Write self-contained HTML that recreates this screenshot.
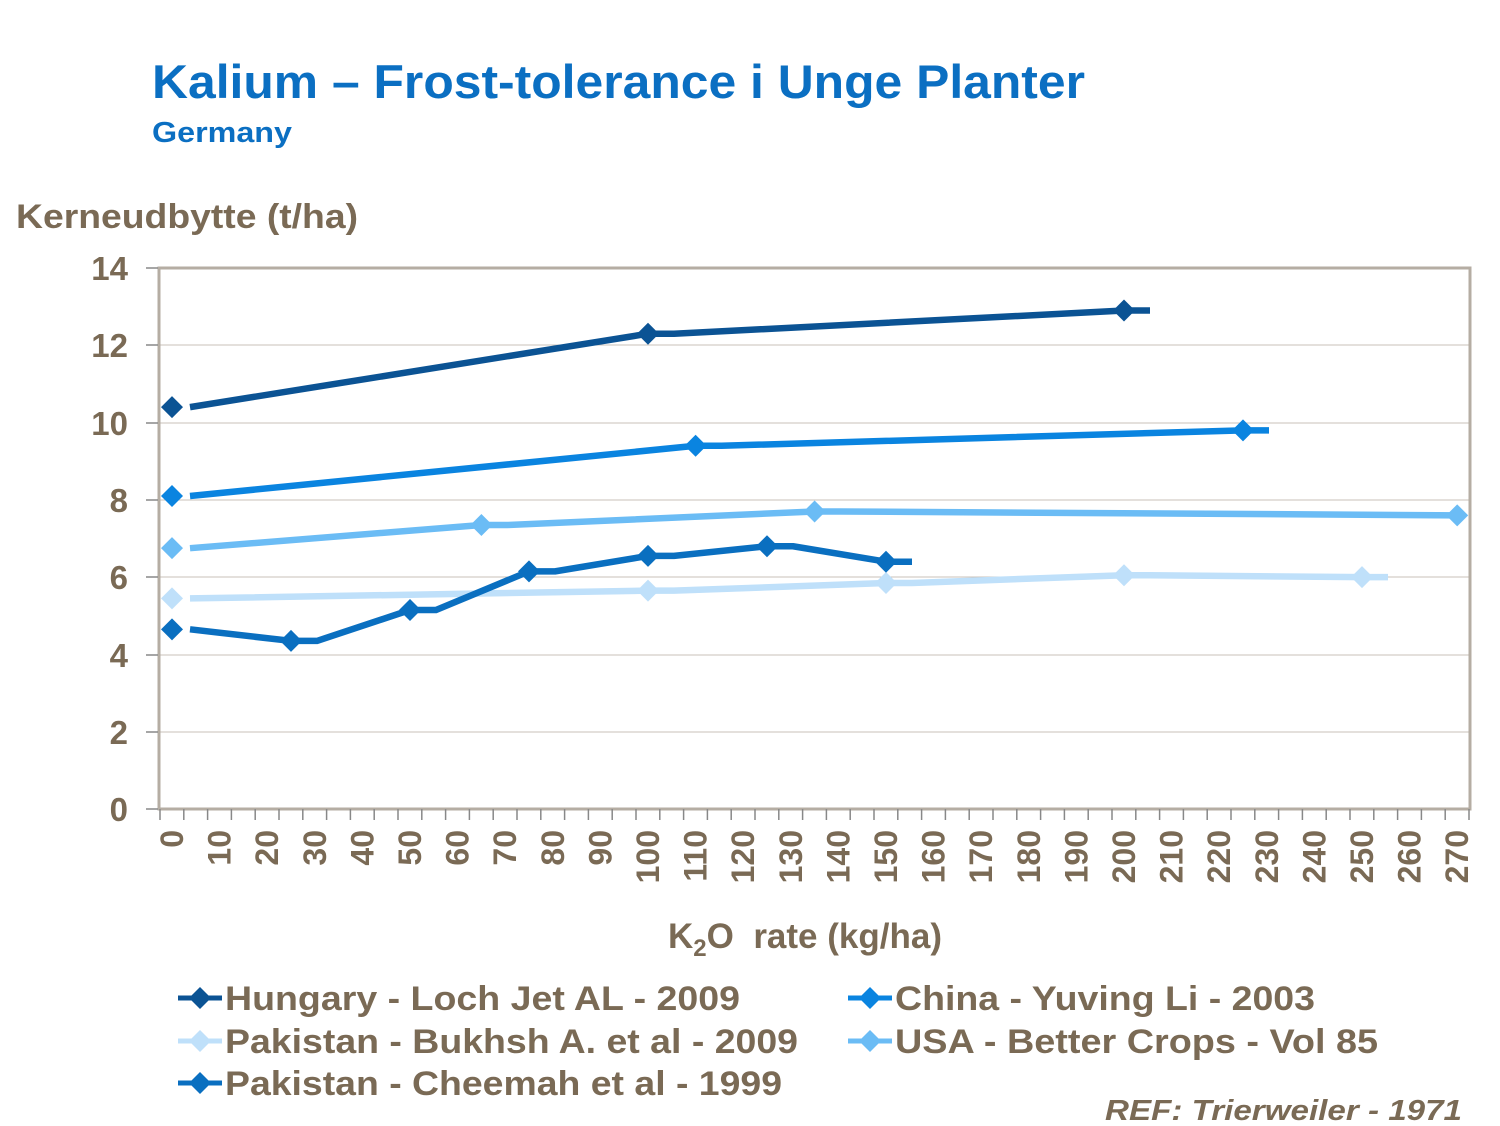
<!DOCTYPE html>
<html><head><meta charset="utf-8"><style>
body{margin:0;background:#fff;}
svg{display:block;font-family:"Liberation Sans",Arial,sans-serif;}
</style></head><body>
<svg width="1500" height="1126" viewBox="0 0 1500 1126">
<text x="152" y="98" font-size="47" font-weight="bold" fill="#0b6fc2" textLength="933" lengthAdjust="spacingAndGlyphs">Kalium – Frost-tolerance i Unge Planter</text>
<text x="152" y="142" font-size="29" font-weight="bold" fill="#0b6fc2" textLength="140" lengthAdjust="spacingAndGlyphs">Germany</text>
<text x="16" y="228" font-size="34" font-weight="bold" fill="#7a6a55" textLength="342" lengthAdjust="spacingAndGlyphs">Kerneudbytte (t/ha)</text>
<g stroke="#c8c0b8" stroke-width="1">
<line x1="158" y1="268" x2="1470" y2="268"/>
<line x1="158" y1="345" x2="1470" y2="345"/>
<line x1="158" y1="423" x2="1470" y2="423"/>
<line x1="158" y1="500" x2="1470" y2="500"/>
<line x1="158" y1="577" x2="1470" y2="577"/>
<line x1="158" y1="655" x2="1470" y2="655"/>
<line x1="158" y1="732" x2="1470" y2="732"/>
</g>
<rect x="159" y="268" width="1311" height="541" fill="none" stroke="#b5ada3" stroke-width="3"/>
<g stroke="#888" stroke-width="1.5">
<line x1="146" y1="268" x2="158" y2="268"/><line x1="146" y1="345" x2="158" y2="345"/><line x1="146" y1="423" x2="158" y2="423"/><line x1="146" y1="500" x2="158" y2="500"/><line x1="146" y1="577" x2="158" y2="577"/><line x1="146" y1="655" x2="158" y2="655"/><line x1="146" y1="732" x2="158" y2="732"/><line x1="146" y1="809" x2="158" y2="809"/>
</g>
<g font-size="33" font-weight="bold" fill="#7a6a55" text-anchor="end">
<text x="128" y="280">14</text><text x="128" y="357">12</text><text x="128" y="435">10</text><text x="128" y="512">8</text><text x="128" y="589">6</text><text x="128" y="667">4</text><text x="128" y="744">2</text><text x="128" y="821">0</text>
</g>
<g id="xt" stroke="#888" stroke-width="1.5"></g>
<g id="xl" font-size="32" font-weight="bold" fill="#7a6a55" text-anchor="end"></g>
<g id="series"></g>
<text x="668" y="948" font-size="35" font-weight="bold" fill="#7a6a55" xml:space="preserve">K<tspan font-size="24" dy="8">2</tspan><tspan dy="-8">O  rate (kg/ha)</tspan></text>
<g font-size="34" font-weight="bold" fill="#7a6a55">
<text x="225" y="1010" textLength="515" lengthAdjust="spacingAndGlyphs">Hungary - Loch Jet AL - 2009</text>
<text x="895" y="1010" textLength="420" lengthAdjust="spacingAndGlyphs">China - Yuving Li - 2003</text>
<text x="225" y="1053" textLength="573" lengthAdjust="spacingAndGlyphs">Pakistan - Bukhsh A. et al - 2009</text>
<text x="895" y="1053" textLength="483" lengthAdjust="spacingAndGlyphs">USA - Better Crops - Vol 85</text>
<text x="225" y="1095" textLength="557" lengthAdjust="spacingAndGlyphs">Pakistan - Cheemah et al - 1999</text>
</g>
<text x="1105" y="1120" font-size="29" font-weight="bold" font-style="italic" fill="#7a6a55" textLength="357" lengthAdjust="spacingAndGlyphs">REF: Trierweiler - 1971</text>
<g id="leg"></g>
</svg>
<script>
var NS="http://www.w3.org/2000/svg";
function el(t,a,p){var e=document.createElementNS(NS,t);for(var k in a)e.setAttribute(k,a[k]);document.getElementById(p).appendChild(e);return e;}
function X(v){return 172+v*4.76;}function Y(v){return 809-v*38.64;}
for(var i=0;i<=55;i++){var x=160+i*23.8;el('line',{x1:x,y1:809,x2:x,y2:820},'xt');}
for(var v=0;v<=270;v+=10){var t=el('text',{transform:'translate('+(X(v)+11)+',830) rotate(-90)',x:0,y:0},'xl');t.textContent=v;}
var S=[
['#0b5394',[[0,10.4],[100,12.3],[200,12.9]]],
['#0a84e0',[[0,8.1],[110,9.4],[225,9.8]]],
['#6bbcf5',[[0,6.75],[65,7.35],[135,7.7],[270,7.6]]],
['#bfe0fa',[[0,5.45],[100,5.65],[150,5.85],[200,6.05],[250,6.0]]],
['#0a6fc0',[[0,4.65],[25,4.35],[50,5.15],[75,6.15],[100,6.55],[125,6.8],[150,6.4]]]];
function diamond(x,y,c,p){el('polygon',{points:(x)+','+(y-11)+' '+(x+11)+','+y+' '+x+','+(y+11)+' '+(x-11)+','+y,fill:c},p);}
S.forEach(function(s){var c=s[0],d=s[1],pts=[];
d.forEach(function(q,i){var x=X(q[0]),y=Y(q[1]);if(i==0)pts.push((x+18)+','+y);else{pts.push(x+','+y);pts.push(Math.min(x+26,1460)+','+y);}});
el('polyline',{points:pts.join(' '),fill:'none',stroke:c,'stroke-width':6.5,'stroke-linejoin':'round'},'series');
d.forEach(function(q){diamond(X(q[0]),Y(q[1]),c,'series');});});
var L=[[178,998,'#0b5394'],[848,998,'#0a84e0'],[178,1041,'#bfe0fa'],[848,1041,'#6bbcf5'],[178,1083,'#0a6fc0']];
L.forEach(function(l){el('line',{x1:l[0],y1:l[1],x2:l[0]+44,y2:l[1],stroke:l[2],'stroke-width':5},'leg');diamond(l[0]+22,l[1],l[2],'leg');});
</script>
</body></html>
